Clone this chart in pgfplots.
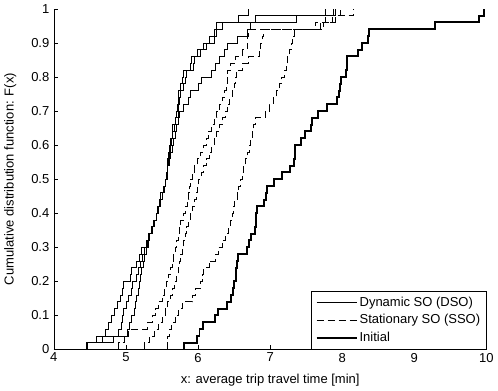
\documentclass[border=0pt]{standalone}
\usepackage{fontspec}
\setmainfont{Liberation Sans}
\usepackage{pgfplots}
\usepackage{pgfplotstable}
\pgfplotsset{compat=1.18}
\pgfplotstableread{
x y
5.80 0
5.80 0.02
5.99 0.04
6.02 0.06
6.07 0.08
6.24 0.10
6.28 0.12
6.40 0.14
6.45 0.16
6.49 0.18
6.50 0.20
6.52 0.22
6.53 0.24
6.54 0.26
6.55 0.28
6.68 0.30
6.70 0.32
6.73 0.34
6.79 0.36
6.80 0.38
6.81 0.40
6.82 0.42
6.92 0.44
6.94 0.46
6.96 0.48
7.05 0.50
7.17 0.52
7.28 0.54
7.33 0.56
7.34 0.58
7.35 0.60
7.43 0.62
7.48 0.64
7.56 0.66
7.58 0.68
7.67 0.70
7.79 0.72
7.93 0.74
7.95 0.76
7.97 0.78
7.98 0.80
8.05 0.82
8.06 0.84
8.07 0.86
8.22 0.88
8.27 0.90
8.36 0.92
8.37 0.94
9.29 0.96
9.90 0.98
9.96 1.00
}\initial
\pgfplotstableread{
x y
4.45 0
4.45 0.02
4.59 0.04
4.72 0.06
4.76 0.08
4.80 0.10
4.84 0.12
4.88 0.14
4.92 0.16
4.95 0.18
4.97 0.20
5.06 0.22
5.08 0.24
5.14 0.26
5.19 0.28
5.22 0.30
5.28 0.32
5.31 0.34
5.35 0.36
5.38 0.38
5.42 0.40
5.44 0.42
5.46 0.44
5.48 0.46
5.52 0.48
5.54 0.50
5.56 0.52
5.57 0.54
5.58 0.56
5.59 0.58
5.60 0.60
5.61 0.62
5.64 0.64
5.65 0.66
5.68 0.68
5.70 0.70
5.71 0.72
5.72 0.74
5.73 0.76
5.76 0.78
5.78 0.80
5.80 0.82
5.89 0.84
5.91 0.86
5.99 0.88
6.08 0.90
6.15 0.92
6.22 0.94
6.26 0.96
6.56 0.98
6.70 1.00
}\dsoa
\pgfplotstableread{
x y
4.46 0
4.46 0.02
4.67 0.04
4.90 0.06
4.93 0.08
4.95 0.10
4.97 0.12
5.00 0.14
5.04 0.16
5.07 0.18
5.09 0.20
5.14 0.22
5.17 0.24
5.20 0.26
5.23 0.28
5.26 0.30
5.29 0.32
5.32 0.34
5.36 0.36
5.39 0.38
5.42 0.40
5.45 0.42
5.48 0.44
5.51 0.46
5.53 0.48
5.55 0.50
5.57 0.52
5.58 0.54
5.59 0.56
5.60 0.58
5.62 0.60
5.63 0.62
5.65 0.64
5.67 0.66
5.69 0.68
5.72 0.70
5.73 0.72
5.74 0.74
5.76 0.76
5.80 0.78
5.82 0.80
5.84 0.82
5.93 0.84
5.95 0.86
6.03 0.88
6.12 0.90
6.22 0.92
6.25 0.94
6.33 0.96
6.79 0.98
7.76 1.00
}\dsob
\pgfplotstableread{
x y
4.47 0
4.47 0.02
4.83 0.04
5.02 0.06
5.05 0.08
5.08 0.10
5.11 0.12
5.13 0.14
5.15 0.16
5.17 0.18
5.19 0.20
5.20 0.22
5.22 0.24
5.24 0.26
5.26 0.28
5.28 0.30
5.31 0.32
5.33 0.34
5.36 0.36
5.39 0.38
5.42 0.40
5.45 0.42
5.48 0.44
5.51 0.46
5.53 0.48
5.55 0.50
5.57 0.52
5.58 0.54
5.60 0.56
5.62 0.58
5.64 0.60
5.66 0.62
5.68 0.64
5.70 0.66
5.72 0.68
5.74 0.70
5.80 0.72
5.87 0.74
5.89 0.76
6.01 0.78
6.05 0.80
6.19 0.82
6.24 0.84
6.29 0.86
6.36 0.88
6.40 0.90
6.54 0.92
6.68 0.94
6.72 0.96
7.37 0.98
7.88 1.00
}\dsoc
\pgfplotstableread{
x y
4.90 0
4.90 0.02
4.98 0.04
5.04 0.06
5.30 0.08
5.37 0.10
5.41 0.12
5.45 0.14
5.50 0.16
5.53 0.18
5.56 0.20
5.59 0.22
5.62 0.24
5.64 0.26
5.66 0.28
5.68 0.30
5.70 0.32
5.72 0.34
5.74 0.36
5.76 0.38
5.79 0.40
5.82 0.42
5.85 0.44
5.87 0.46
5.88 0.48
5.89 0.50
5.92 0.52
5.95 0.54
5.99 0.56
6.03 0.58
6.07 0.60
6.11 0.62
6.14 0.64
6.18 0.66
6.22 0.68
6.26 0.70
6.30 0.72
6.33 0.74
6.37 0.76
6.39 0.78
6.40 0.80
6.41 0.82
6.45 0.84
6.52 0.86
6.62 0.88
6.68 0.90
6.69 0.92
6.70 0.94
7.74 0.96
7.86 0.98
7.90 1.00
}\ssoa
\pgfplotstableread{
x y
5.25 0
5.25 0.02
5.33 0.04
5.39 0.06
5.45 0.08
5.50 0.10
5.54 0.12
5.58 0.14
5.62 0.16
5.65 0.18
5.67 0.20
5.70 0.22
5.72 0.24
5.74 0.26
5.76 0.28
5.78 0.30
5.80 0.32
5.82 0.34
5.84 0.36
5.86 0.38
5.89 0.40
5.92 0.42
5.95 0.44
5.97 0.46
5.99 0.48
6.01 0.50
6.04 0.52
6.07 0.54
6.11 0.56
6.15 0.58
6.19 0.60
6.22 0.62
6.26 0.64
6.30 0.66
6.34 0.68
6.38 0.70
6.41 0.72
6.44 0.74
6.47 0.76
6.50 0.78
6.52 0.80
6.53 0.82
6.62 0.84
6.70 0.86
6.85 0.88
6.87 0.90
6.89 0.92
6.91 0.94
7.62 0.96
7.90 0.98
8.16 1.00
}\ssob
\pgfplotstableread{
x y
5.57 0
5.57 0.02
5.58 0.04
5.60 0.06
5.63 0.08
5.68 0.10
5.73 0.12
5.78 0.14
5.92 0.16
5.96 0.18
6.03 0.20
6.06 0.22
6.08 0.24
6.15 0.26
6.24 0.28
6.28 0.30
6.33 0.32
6.38 0.34
6.42 0.36
6.45 0.38
6.47 0.40
6.49 0.42
6.51 0.44
6.54 0.46
6.56 0.48
6.58 0.50
6.61 0.52
6.63 0.54
6.66 0.56
6.69 0.58
6.71 0.60
6.73 0.62
6.75 0.64
6.77 0.66
6.79 0.68
6.93 0.70
6.99 0.72
7.04 0.74
7.09 0.76
7.13 0.78
7.16 0.80
7.19 0.82
7.22 0.84
7.24 0.86
7.27 0.88
7.29 0.90
7.31 0.92
7.33 0.94
7.70 0.96
7.76 0.98
7.97 1.00
}\ssoc
\begin{document}
\fontsize{13bp}{15bp}\selectfont
\begin{tikzpicture}
\begin{axis}[
  scale only axis,
  width=433bp, height=341bp,
  xmin=4, xmax=10, ymin=0, ymax=1,
  axis x line*=bottom, axis y line*=left,
  axis line style={-, line width=0.6bp},
  xtick={4,5,6,7,8,9,10},
  ytick={0,0.1,0.2,0.3,0.4,0.5,0.6,0.7,0.8,0.9,1},
  yticklabels={0,0.1,0.2,0.3,0.4,0.5,0.6,0.7,0.8,0.9,1},
  tick align=inside,
  major tick length=4.5bp,
  tick style={line width=0.5bp, black},
  /pgf/number format/assume math mode=true,
  ticklabel style={font=\fontsize{13bp}{15bp}\selectfont},
  xticklabel style={yshift=1bp},
  label style={font=\fontsize{13bp}{15bp}\selectfont},
  xlabel={x: average trip travel time [min]},
  ylabel={Cumulative distribution function: F(x)},
  xlabel style={yshift=-3bp},
  ylabel style={yshift=6bp},
  legend style={at={(1,0)}, anchor=south east, draw=black, line width=0.6bp,
    fill=white, font=\fontsize{13bp}{15bp}\selectfont,
    inner xsep=4bp, inner ysep=3.5bp, row sep=2.5bp,
    cells={anchor=west}},
  legend cell align=left,
  legend image code/.code={\draw[#1] (0bp,0bp) -- (40bp,0bp);},
  clip=true,
]
\addplot[const plot, black, line width=0.7bp] table[x=x,y=y] {\dsoa};
\addlegendentry{Dynamic SO (DSO)}
\addplot[const plot, black, line width=0.7bp, dash pattern=on 7bp off 4bp] table[x=x,y=y] {\ssoa};
\addlegendentry{Stationary SO (SSO)}
\addplot[const plot, black, line width=2bp] table[x=x,y=y] {\initial};
\addlegendentry{Initial}
\addplot[const plot, black, line width=0.7bp, forget plot] table[x=x,y=y] {\dsob};
\addplot[const plot, black, line width=0.7bp, forget plot] table[x=x,y=y] {\dsoc};
\addplot[const plot, black, line width=0.7bp, dash pattern=on 7bp off 4bp, forget plot] table[x=x,y=y] {\ssob};
\addplot[const plot, black, line width=0.7bp, dash pattern=on 7bp off 4bp, forget plot] table[x=x,y=y] {\ssoc};
\end{axis}
\end{tikzpicture}
\end{document}
